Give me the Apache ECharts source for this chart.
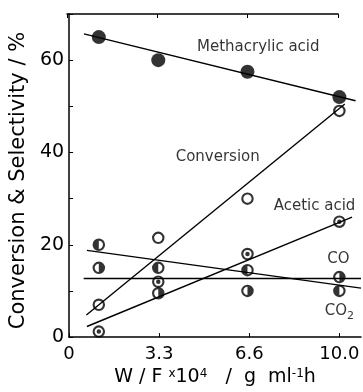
<!DOCTYPE html>
<html>
<head>
<meta charset="utf-8">
<script src="https://cdn.jsdelivr.net/npm/echarts@6/dist/echarts.min.js"></script>
<style>
  html, body { margin: 0; padding: 0; background: #fff; }
  #main { width: 363px; height: 392px; }
</style>
</head>
<body>
<div id="main"></div>
<script>
// measured points (W/F x10^4)
const xPts = [1.1, 3.3, 6.6, 10.0];
const methacrylic = [65, 60, 57.5, 52];
const conversion = [7, 21.5, 30, 49];
const acetic = [1.2, 12, 18, 25];
const co = [15, 9.5, 10, 13];
const co2 = [20, 15, 14.5, 10];

// straight fit lines, end points
const maFitX = [0.55, 10.6], maFitY = [65.7, 51.2];
const convFitX = [0.64, 10.2], convFitY = [4.8, 50.5];
const aceticFitX = [0.66, 10.47], aceticFitY = [2.3, 26.0];
const coFitX = [0.54, 10.8], coFitY = [12.7, 12.7];
const co2FitX = [0.66, 10.8], co2FitY = [18.8, 10.6];

// tick labels
const xTickVals = [0, 10 / 3, 20 / 3, 10];
const xTickLabels = ['0', '3.3', '6.6', '10.0'];
const yTickVals = [0, 20, 40, 60];

// curve labels
const noteText = ['Methacrylic acid', 'Conversion', 'Acetic acid', 'CO', 'CO{s|2}'];
const noteX = [7.0, 5.5, 9.08, 9.96, 10.0];
const noteY = [62.8, 38.9, 28.3, 16.8, 5.6];

const zip = (xs, ys) => xs.map((x, i) => [x, ys[i]]);

// symbols: ring, ring + half disk, ring + dot
const ring = 'M0,10 A10,10 0 1,1 20,10 A10,10 0 1,1 0,10 Z M3.4,10 A6.6,6.6 0 1,0 16.6,10 A6.6,6.6 0 1,0 3.4,10 Z';
const ringLeftHalf = 'path://' + ring + ' M10,3.4 A6.6,6.6 0 0,0 10,16.6 Z';
const ringRightHalf = 'path://' + ring + ' M10,3.4 A6.6,6.6 0 0,1 10,16.6 Z';
const ringDot = 'path://' + ring + ' M6.4,10 A3.6,3.6 0 1,0 13.6,10 A3.6,3.6 0 1,0 6.4,10 Z';
const ringOpen = 'path://' + ring;

const FONT = 'DejaVu Sans';

function fitLine(xs, ys) {
  return {
    type: 'line', data: zip(xs, ys), symbol: 'none', silent: true,
    lineStyle: { color: '#000', width: 1.4 }, z: 1
  };
}
function points(ys, symbol, size) {
  return {
    type: 'scatter', data: zip(xPts, ys), symbol: symbol, symbolSize: size,
    itemStyle: { color: '#000' }, z: 3
  };
}

const chart = echarts.init(document.getElementById('main'));
chart.setOption({
  backgroundColor: '#fff',
  animation: false,
  grid: [
    { left: 67, right: 2, top: 14, bottom: 53 },
    { left: 67, right: 25, top: 14, bottom: 53 } // top frame only reaches 10.0
  ],
  xAxis: [{
    type: 'value', min: 0, max: 10.8,
    name: 'W / F {sup|x}10{sup|4}   /  g  ml{sup|-1}h', nameLocation: 'middle', nameGap: 27,
    nameTextStyle: {
      fontFamily: FONT, fontSize: 19, color: '#000',
      rich: { sup: { fontFamily: FONT, fontSize: 12, color: '#000', verticalAlign: 'top', padding: [0, 0, 6, 0] } }
    },
    axisLine: { lineStyle: { color: '#000', width: 1.5 } },
    axisTick: { inside: true, length: 4, customValues: xTickVals, lineStyle: { color: '#000' } },
    axisLabel: {
      customValues: xTickVals, margin: 8, fontFamily: FONT, fontSize: 18, color: '#000',
      formatter: v => xTickLabels[Math.round(v * 0.3)]
    },
    splitLine: { show: false }
  }, {
    gridIndex: 1, type: 'value', min: 0, max: 10, position: 'top',
    axisLine: { onZero: false, lineStyle: { color: '#000', width: 1.5 } },
    axisTick: { inside: true, length: 4, customValues: xTickVals, lineStyle: { color: '#000' } },
    axisLabel: { show: false },
    splitLine: { show: false }
  }],
  yAxis: [{
    type: 'value', min: 0, max: 70, interval: 10,
    name: 'Conversion & Selectivity / %', nameLocation: 'middle', nameGap: 32,
    nameTextStyle: { fontFamily: FONT, fontSize: 21, color: '#000', padding: [0, 10, 0, 0] },
    axisLine: { show: true, lineStyle: { color: '#000', width: 1.5 } },
    axisTick: { inside: true, length: 4, lineStyle: { color: '#000' } },
    axisLabel: {
      customValues: yTickVals, margin: 5, fontFamily: FONT, fontSize: 19, color: '#000'
    },
    splitLine: { show: false }
  }, {
    gridIndex: 1, type: 'value', min: 0, max: 70, show: false
  }],
  series: [
    fitLine(maFitX, maFitY),
    fitLine(convFitX, convFitY),
    fitLine(aceticFitX, aceticFitY),
    fitLine(coFitX, coFitY),
    fitLine(co2FitX, co2FitY),
    points(methacrylic, 'circle', 14),
    points(conversion, ringOpen, 12.5),
    points(acetic, ringDot, 12.5),
    points(co, ringRightHalf, 12.5),
    points(co2, ringLeftHalf, 12.5),
    {
      type: 'scatter', symbolSize: 0, silent: true,
      data: noteText.map((t, i) => ({ value: [noteX[i], noteY[i]], name: t })),
      label: {
        show: true, position: 'inside', formatter: p => p.name,
        fontFamily: FONT, fontSize: 15, color: '#000',
        rich: { s: { fontFamily: FONT, fontSize: 11, color: '#000', padding: [10, 0, 0, 0] } }
      }
    }
  ]
});
</script>
</body>
</html>
